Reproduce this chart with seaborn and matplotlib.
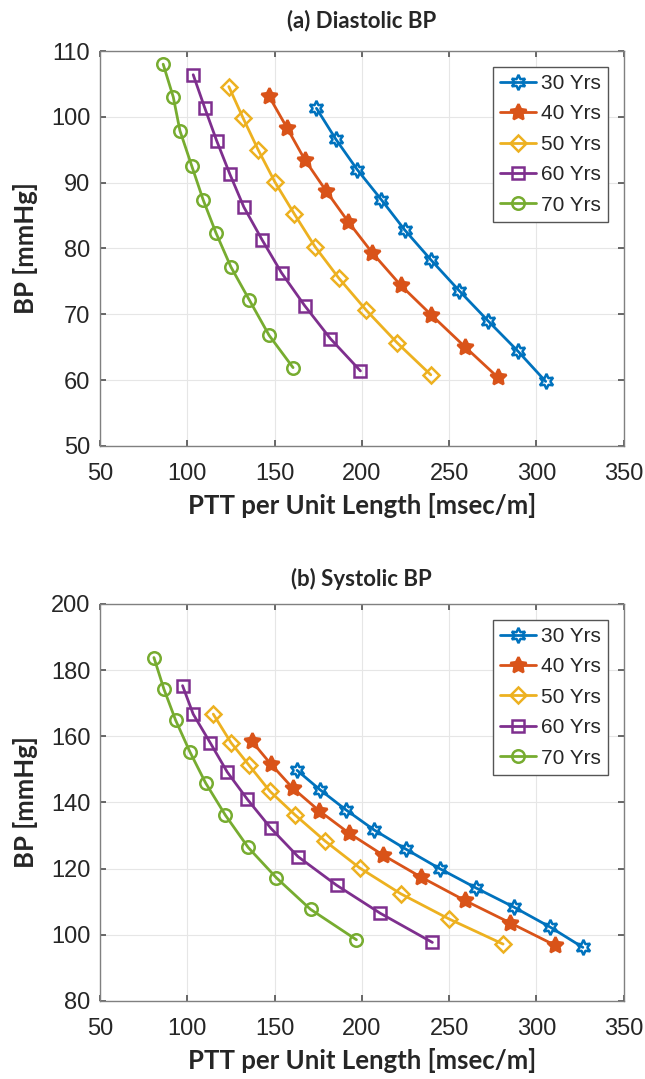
import matplotlib
matplotlib.use("Agg")
import matplotlib.pyplot as plt
import seaborn as sns

ages = ["30 Yrs", "40 Yrs", "50 Yrs", "60 Yrs", "70 Yrs"]

# (a) diastolic BP: PTT per unit length (msec/m) vs BP (mmHg)
dia_ptt = {
    "30 Yrs": [174.0, 185.1, 197.3, 211.2, 224.6, 239.8, 255.7, 272.3, 289.4, 305.3],
    "40 Yrs": [146.9, 157.2, 167.3, 179.4, 192.1, 206.1, 222.3, 239.8, 258.9, 278.0],
    "50 Yrs": [123.8, 132.0, 140.6, 150.2, 161.2, 173.1, 186.8, 202.6, 220.1, 239.5],
    "60 Yrs": [103.4, 110.1, 116.8, 124.4, 132.4, 142.9, 154.0, 167.3, 182.0, 199.2],
    "70 Yrs": [86.2, 92.0, 95.8, 102.5, 109.1, 116.4, 125.0, 135.5, 146.9, 160.6],
}
dia_bp = {
    "30 Yrs": [101.3, 96.6, 92.0, 87.4, 82.8, 78.2, 73.6, 69.0, 64.4, 59.8],
    "40 Yrs": [103.1, 98.3, 93.5, 88.8, 84.1, 79.3, 74.4, 69.9, 65.1, 60.4],
    "50 Yrs": [104.6, 99.8, 95.0, 90.1, 85.3, 80.3, 75.5, 70.6, 65.7, 60.8],
    "60 Yrs": [106.4, 101.3, 96.4, 91.3, 86.3, 81.3, 76.3, 71.3, 66.3, 61.4],
    "70 Yrs": [108.0, 103.0, 97.9, 92.6, 87.4, 82.4, 77.2, 72.2, 66.8, 61.9],
}

# (b) systolic BP
sys_ptt = {
    "30 Yrs": [162.9, 175.9, 190.8, 207.0, 225.5, 244.6, 265.6, 287.0, 308.0, 326.6],
    "40 Yrs": [136.8, 147.7, 160.3, 175.5, 192.7, 212.1, 233.7, 258.9, 285.0, 310.4],
    "50 Yrs": [114.9, 125.0, 135.3, 147.3, 161.6, 178.8, 198.8, 222.3, 249.9, 280.9],
    "60 Yrs": [97.3, 103.4, 113.3, 122.9, 134.5, 147.9, 163.5, 185.5, 210.6, 240.4],
    "70 Yrs": [80.9, 86.6, 93.3, 101.5, 110.5, 121.9, 134.9, 151.1, 170.6, 196.9],
}
sys_bp = {
    "30 Yrs": [149.7, 143.9, 137.8, 131.7, 125.8, 120.0, 114.1, 108.4, 102.3, 96.2],
    "40 Yrs": [158.6, 151.7, 144.4, 137.5, 130.7, 124.1, 117.5, 110.4, 103.6, 96.9],
    "50 Yrs": [166.7, 158.1, 151.3, 143.4, 136.3, 128.4, 120.2, 112.4, 104.8, 97.2],
    "60 Yrs": [175.3, 166.7, 157.9, 149.2, 140.9, 132.2, 123.6, 115.0, 106.5, 97.7],
    "70 Yrs": [183.8, 174.3, 164.9, 155.3, 145.9, 136.1, 126.4, 117.2, 107.7, 98.5],
}

colors = ["#0072BD", "#D95319", "#EDB120", "#7E2F8E", "#77AC30"]
markers = [(6, 1, 0), (5, 1, 0), "D", "s", "o"]
msizes = [11, 12, 8, 8, 9]
faces = ["none", "#D95319", "none", "none", "none"]

sns.set_theme(style="ticks")
plt.rcParams["font.family"] = ["Liberation Sans", "DejaVu Sans"]

fig = plt.figure(figsize=(6.45, 10.79), dpi=100)
ax1 = fig.add_axes([0.155, 0.5867, 0.812, 0.366])
ax2 = fig.add_axes([0.155, 0.0723, 0.812, 0.368])


def draw(ax, ptt, bp, title, ylim, yticks, tpad):
    for i, age in enumerate(ages):
        sns.lineplot(x=ptt[age], y=bp[age], ax=ax, color=colors[i], marker=markers[i],
                     markersize=msizes[i], markerfacecolor=faces[i], markeredgecolor=colors[i],
                     markeredgewidth=1.8, linewidth=2, label=age, sort=False)
    ax.set_xlim(50, 350)
    ax.set_ylim(*ylim)
    ax.set_xticks(range(50, 351, 50))
    ax.set_yticks(yticks)
    ax.grid(True, color="#e6e6e6", linewidth=0.8)
    ax.tick_params(direction="in", top=True, right=True, labelsize=17, length=4,
                   color="#555555", labelcolor="#262626")
    ax.tick_params(axis="x", pad=12)
    ax.tick_params(axis="y", pad=7)
    for s in ax.spines.values():
        s.set_color("#808080")
        s.set_linewidth(1)
    ax.set_title(title, fontsize=16, fontweight="bold", family="Lato", pad=tpad)
    ax.set_xlabel("PTT per Unit Length [msec/m]", fontsize=18.5, fontweight="bold", family="Lato", labelpad=6)
    ax.set_ylabel("BP [mmHg]", fontsize=18.5, fontweight="bold", family="Lato", labelpad=9)
    leg = ax.legend(loc="upper right", fontsize=15, frameon=True, fancybox=False,
                    handlelength=1.7, handletextpad=0.25, borderpad=0.35, labelspacing=0.55,
                    borderaxespad=0.75)
    leg.get_frame().set_edgecolor("#555555")
    leg.get_frame().set_linewidth(1)
    leg.get_frame().set_alpha(1)


draw(ax1, dia_ptt, dia_bp, "(a) Diastolic BP", (50, 110), range(50, 111, 10), 17)
draw(ax2, sys_ptt, sys_bp, "(b) Systolic BP", (80, 200), range(80, 201, 20), 13)

fig.savefig("out.png", dpi=100)
